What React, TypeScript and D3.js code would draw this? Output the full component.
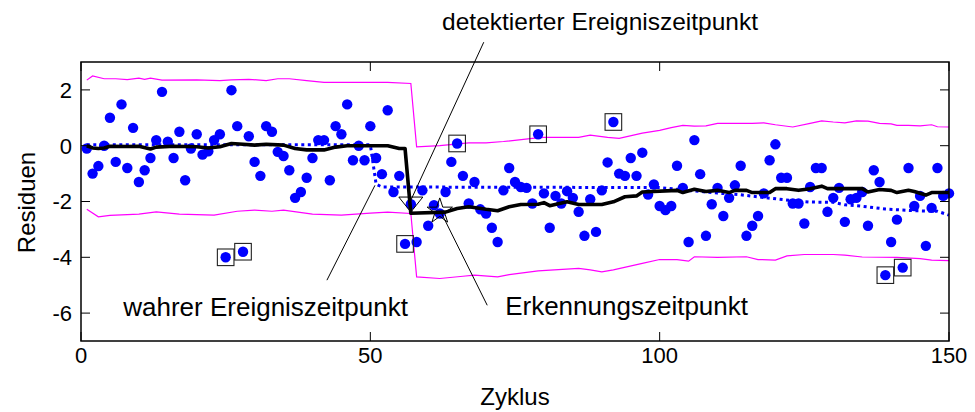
import React from "react";
import * as d3 from "d3";

// Residuals per cycle (cycle 1..150)
const residuals: number[] = [
  -0.1, -1.0, -0.73, 0.0, 1.0, -0.58, 1.48, -0.8, 0.64, -1.3,
  -0.88, -0.44, 0.2, 1.93, 0.14, -0.44, 0.5, -1.24, -0.1, 0.41,
  -0.32, -0.2, 0.2, 0.41, -4.0, 1.99, 0.7, -3.8, 0.34, -0.58,
  -1.08, 0.7, 0.5, -0.22, -0.37, -0.88, -1.87, -1.66, -1.15, -0.44,
  0.2, 0.2, -1.24, 0.7, 0.41, 1.48, -0.52, 0.0, -0.52, 0.7,
  -0.44, -1.02, 1.27, -1.66, -1.08, -3.52, -2.1, -3.45, -1.6, -2.87,
  -2.13, -2.43, -1.66, -0.58, 0.08, -1.08, -2.07, -1.3, -2.28, -2.43,
  -2.94, -3.45, -1.6, -0.8, -1.3, -1.48, -1.51, -2.07, 0.41, -1.71,
  -2.94, -1.8, -2.07, -1.63, -1.87, -2.37, -3.23, -1.92, -3.09, -1.6,
  -0.6, 0.85, -1.0, -1.08, -0.44, -1.08, -0.25, -1.75, -1.39, -2.16,
  -2.31, -2.16, -0.72, -1.51, -3.45, 0.2, -1.02, -3.23, -2.1, -1.51,
  -2.52, -1.87, -1.42, -0.72, -3.23, -2.87, -2.52, -1.71, -0.52, 0.05,
  -1.15, -1.15, -2.07, -2.07, -2.79, -1.48, -0.8, -0.8, -2.37, -1.87,
  -1.51, -2.73, -1.92, -1.87, -1.66, -2.87, -0.88, -1.3, -4.64, -3.45,
  -2.65, -4.37, -0.8, -2.16, -1.8, -3.59, -2.23, -0.8, -1.8, -1.71,
];

// Cycles flagged as outliers (drawn with a box)
const outlierCycles: number[] = [25, 28, 56, 65, 79, 92, 139, 142];

// Estimated mean (solid black), [cycle, value]
const estimatedMean: [number, number][] = [
  [1, 0.0], [2, -0.08], [3, -0.1], [4, -0.08], [5, -0.02], [8, -0.03], [10, -0.02],
  [12, -0.12], [13, -0.05], [16, -0.02], [20, -0.04], [22, -0.08], [24, -0.04],
  [26, 0.08], [28, 0.05], [30, 0.02], [32, 0.05], [35, 0.02], [37, -0.1], [39, -0.15],
  [42, -0.15], [44, -0.05], [46, 0.0], [53, 0.0], [55, -0.1], [56, -0.1],
  [57, -2.42], [63, -2.38], [65, -2.25], [67, -2.19], [70, -2.28], [72, -2.33],
  [74, -2.19], [76, -2.11], [79, -2.1], [80, -2.04], [81, -2.15], [84, -2.01],
  [86, -2.11], [90, -2.11], [92, -2.01], [94, -1.83], [96, -1.8], [97, -1.66],
  [103, -1.6], [104, -1.68], [106, -1.56], [108, -1.64], [110, -1.6], [112, -1.68],
  [113, -1.6], [115, -1.6], [116, -1.68], [119, -1.68], [120, -1.54], [122, -1.54],
  [124, -1.6], [126, -1.54], [128, -1.45], [129, -1.54], [132, -1.54], [135, -1.54],
  [136, -1.66], [138, -1.57], [140, -1.6], [141, -1.68], [143, -1.6], [144, -1.64],
  [146, -1.77], [147, -1.68], [150, -1.68],
];

// True mean (dotted blue), [cycle, value]
const trueMean: [number, number][] = [
  [1, 0.03], [50, 0.03], [51, -1.38], [52, -1.48], [100, -1.5], [104, -1.58],
  [110, -1.7], [114, -1.76], [119, -1.88], [123, -1.97], [126, -2.02], [130, -2.03],
  [132, -2.12], [135, -2.17], [139, -2.27], [144, -2.33], [148, -2.35], [150, -2.49],
];

// Upper control limit (magenta), [cycle, value]
const upperLimit: [number, number][] = [
  [1, 2.35], [2, 2.5], [4, 2.4], [6, 2.4], [8, 2.37], [10, 2.42], [11, 2.38],
  [12, 2.42], [14, 2.35], [20, 2.36], [24, 2.33], [26, 2.36], [29, 2.38], [32, 2.33],
  [34, 2.4], [36, 2.4], [39, 2.33], [42, 2.27], [50, 2.27], [53, 2.27], [57, 2.23],
  [58, -0.04], [62, 0.0], [67, 0.1], [70, 0.1], [73, 0.15], [78, 0.26], [80, 0.3],
  [86, 0.3], [88, 0.38], [91, 0.3], [93, 0.26], [97, 0.45], [100, 0.55], [102, 0.65],
  [104, 0.73], [106, 0.7], [108, 0.71], [110, 0.8], [116, 0.8], [118, 0.82], [120, 0.75],
  [123, 0.67], [126, 0.8], [128, 0.89], [130, 0.85], [132, 0.82], [134, 0.89],
  [136, 0.88], [138, 0.8], [140, 0.78], [141, 0.73], [143, 0.73], [145, 0.71],
  [147, 0.75], [148, 0.68], [150, 0.67],
];

// Lower control limit (magenta), [cycle, value]
const lowerLimit: [number, number][] = [
  [1, -2.28], [3, -2.55], [5, -2.5], [10, -2.45], [13, -2.37], [17, -2.45], [23, -2.49],
  [27, -2.35], [30, -2.31], [33, -2.35], [35, -2.31], [40, -2.45], [45, -2.49],
  [50, -2.42], [53, -2.38], [57, -2.43],
  [58, -4.7], [62, -4.76], [66, -4.68], [68, -4.64], [72, -4.7], [74, -4.62], [79, -4.49],
  [86, -4.4], [88, -4.45], [90, -4.52], [92, -4.45], [97, -4.22], [100, -4.08],
  [103, -4.08], [105, -4.14], [106, -3.98], [110, -4.0], [115, -3.98], [117, -4.08],
  [120, -4.1], [122, -3.95], [125, -3.9], [130, -3.9], [132, -3.92], [135, -3.99],
  [141, -4.0], [145, -4.05], [147, -4.1], [150, -4.12],
];

const xTicks: number[] = [0, 50, 100, 150];
const yTicks: number[] = [-6, -4, -2, 0, 2];

// Event markers
const detectedEvent: [number, number] = [57, -2.02];
const detectionTime: [number, number] = [62, -2.35];
const trueEvent: [number, number] = [50.8, -1.42];

// Annotation labels and leader lines (data coordinates)
const annotations = [
  { text: "detektierter Ereigniszeitpunkt", at: [89.7, 4.14], anchor: "middle", size: 24.5, from: [69.6, 3.71], to: [56.9, -2.0] },
  { text: "wahrer Ereigniszeitpunkt", at: [31.9, -6.1], anchor: "middle", size: 26, from: [42.5, -4.82], to: trueEvent },
  { text: "Erkennungszeitpunkt", at: [73.3, -6.07], anchor: "start", size: 26, from: [62.2, -2.38], to: [70.2, -5.72] },
];

const FONT = "'Liberation Sans', Arial, Helvetica, sans-serif";

export default function App() {
  const width = 975;
  const height = 412;
  const x = d3.scaleLinear().domain([0, 150]).range([81, 949]);
  const y = d3.scaleLinear().domain([-7, 3]).range([341, 62]);

  const line = d3
    .line<[number, number]>()
    .x((d) => x(d[0]))
    .y((d) => y(d[1]));

  const pts = residuals.map((v, i) => [i + 1, v] as [number, number]);

  const triSize = 12;
  const [tx, ty] = [x(detectedEvent[0]), y(detectedEvent[1])];
  const triPath = `M${tx - triSize},${ty - 5} L${tx + triSize},${ty - 5} L${tx},${ty + 10} Z`;

  const star = d3.symbol().type(d3.symbolStar).size(200)();

  const [x0, x1] = x.range();
  const [yb, yt] = y.range();

  return (
    <svg
      width={width}
      height={height}
      style={{ position: "fixed", left: 0, top: 0, background: "#fff" }}
      fontFamily={FONT}
    >
      <rect x={0} y={0} width={width} height={height} fill="#fff" />

      {/* control limits */}
      <path d={line(upperLimit) ?? ""} fill="none" stroke="#ff00ff" strokeWidth={1.2} />
      <path d={line(lowerLimit) ?? ""} fill="none" stroke="#ff00ff" strokeWidth={1.2} />

      {/* true mean */}
      <path
        d={line(trueMean) ?? ""}
        fill="none"
        stroke="#0000ff"
        strokeWidth={3}
        strokeDasharray="3 3.5"
      />

      {/* residuals */}
      {pts.map((d) => (
        <circle key={d[0]} cx={x(d[0])} cy={y(d[1])} r={5.2} fill="#0000ff" />
      ))}

      {/* estimated mean */}
      <path
        d={line(estimatedMean) ?? ""}
        fill="none"
        stroke="#000"
        strokeWidth={3.6}
        strokeLinejoin="round"
      />

      {/* outlier boxes */}
      {outlierCycles.map((c) => (
        <rect
          key={c}
          x={x(c) - 8.3}
          y={y(residuals[c - 1]) - 8.3}
          width={16.6}
          height={16.6}
          fill="none"
          stroke="#222"
          strokeWidth={1.1}
        />
      ))}

      {/* event markers */}
      <path d={triPath} fill="none" stroke="#000" strokeWidth={1} />
      <path
        d={star ?? ""}
        transform={`translate(${x(detectionTime[0])},${y(detectionTime[1])})`}
        fill="none"
        stroke="#000"
        strokeWidth={1}
      />

      {/* axes box */}
      <rect x={x0} y={yt} width={x1 - x0} height={yb - yt} fill="none" stroke="#000" strokeWidth={1.5} />
      {xTicks.map((t) => (
        <g key={`x${t}`}>
          <line x1={x(t)} x2={x(t)} y1={yb} y2={yb - 9} stroke="#000" strokeWidth={1} />
          <line x1={x(t)} x2={x(t)} y1={yt} y2={yt + 9} stroke="#000" strokeWidth={1} />
          <text x={x(t)} y={363} textAnchor="middle" fontSize={22} fill="#000">
            {t}
          </text>
        </g>
      ))}
      {yTicks.map((t) => (
        <g key={`y${t}`}>
          <line x1={x0} x2={x0 + 9} y1={y(t)} y2={y(t)} stroke="#000" strokeWidth={1} />
          <line x1={x1} x2={x1 - 9} y1={y(t)} y2={y(t)} stroke="#000" strokeWidth={1} />
          <text x={72} y={y(t)} dy="0.36em" textAnchor="end" fontSize={22} fill="#000">
            {t}
          </text>
        </g>
      ))}

      <text x={(x0 + x1) / 2} y={405} textAnchor="middle" fontSize={24} fill="#000">
        Zyklus
      </text>
      <text
        transform={`translate(35,${(yt + yb) / 2 + 1}) rotate(-90)`}
        textAnchor="middle"
        fontSize={24}
        fill="#000"
      >
        Residuen
      </text>

      {/* annotations */}
      {annotations.map((a) => (
        <g key={a.text}>
          <line
            x1={x(a.from[0])}
            y1={y(a.from[1])}
            x2={x(a.to[0])}
            y2={y(a.to[1])}
            stroke="#000"
            strokeWidth={1}
          />
          <text
            x={x(a.at[0])}
            y={y(a.at[1])}
            textAnchor={a.anchor as "middle" | "start"}
            fontSize={a.size}
            fill="#000"
          >
            {a.text}
          </text>
        </g>
      ))}
    </svg>
  );
}
